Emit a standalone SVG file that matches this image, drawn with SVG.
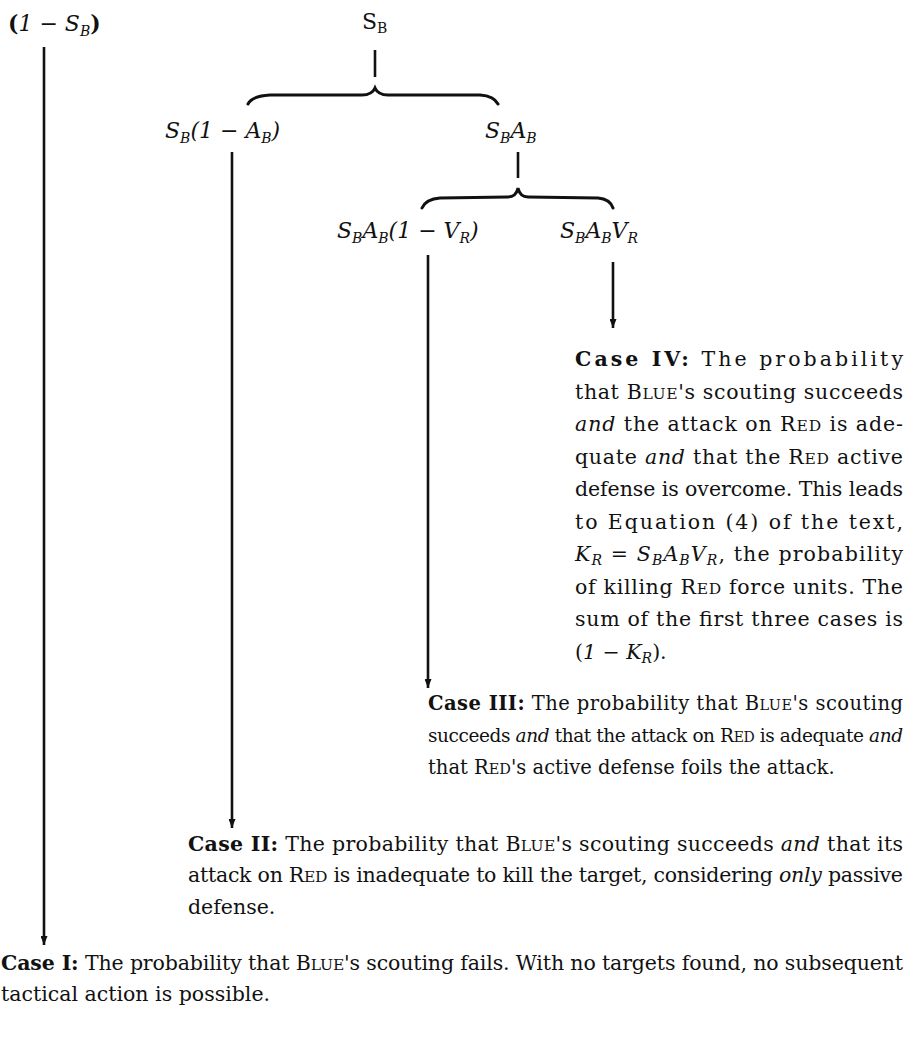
<svg xmlns="http://www.w3.org/2000/svg" width="920" height="1037" viewBox="0 0 920 1037">
<style>
.t{font-family:"DejaVu Serif","Liberation Serif",serif;font-size:20.5px;fill:#111}
.t3{font-size:19.5px}
.t3n{font-size:18.5px}
.b{font-weight:bold}
.i{font-style:italic}
.sc{font-size:15.5px}
.t3 .sc{font-size:14.5px}
.t3n .sc{font-size:14px}
.m{font-family:"DejaVu Serif","Liberation Serif",serif;font-size:22px;fill:#111}
.mi{font-style:italic}
.sub{font-size:14px;font-style:italic}
.ln{stroke:#111;stroke-width:2.6;fill:none}
.br{stroke:#111;stroke-width:3;fill:none;stroke-linecap:round}
</style>
<defs>
<marker id="ah" markerUnits="userSpaceOnUse" markerWidth="9" markerHeight="7" viewBox="0 0 9 7" refX="9" refY="3.5" orient="auto">
<path d="M0,0 L9,3.5 L0,7 z" fill="#111"/>
</marker>
</defs>
<rect width="920" height="1037" fill="#fff"/>

<g id="connectors">
<line class="ln" x1="44" y1="47" x2="44" y2="945" marker-end="url(#ah)"/>
<line class="ln" x1="375" y1="50" x2="375" y2="77"/>
<path class="br" d="M248,104 Q252,96 270,95 L362,95 Q372,95 375,88 Q378,95 388,95 L480,95 Q494,96 498,104"/>
<line class="ln" x1="232" y1="152" x2="232" y2="828" marker-end="url(#ah)"/>
<line class="ln" x1="518" y1="152" x2="518" y2="178"/>
<path class="br" d="M422,208 Q426,199 440,198 L508,197 Q516,197 518,188 Q520,197 528,197 L598,198 Q610,199 613,208"/>
<line class="ln" x1="428" y1="255" x2="428" y2="688" marker-end="url(#ah)"/>
<line class="ln" x1="613" y1="262" x2="613" y2="328" marker-end="url(#ah)"/>
</g>

<g id="n-not-scouted">
<text class="m" x="8" y="31"><tspan class="b">(</tspan><tspan class="mi">1 − S</tspan><tspan class="sub" dy="5">B</tspan><tspan class="b" dy="-5">)</tspan></text>
</g>
<g id="n-scouted">
<text class="m" x="362" y="29">S<tspan font-size="14" dy="4">B</tspan></text>
</g>
<g id="n-inadequate">
<text class="m mi" x="165" y="138">S<tspan class="sub" dy="5">B</tspan><tspan dy="-5">(1 − A</tspan><tspan class="sub" dy="5">B</tspan><tspan dy="-5">)</tspan></text>
</g>
<g id="n-adequate">
<text class="m mi" x="485" y="138">S<tspan class="sub" dy="5">B</tspan><tspan dy="-5">A</tspan><tspan class="sub" dy="5">B</tspan></text>
</g>
<g id="n-foiled">
<text class="m mi" x="337" y="238">S<tspan class="sub" dy="5">B</tspan><tspan dy="-5">A</tspan><tspan class="sub" dy="5">B</tspan><tspan dy="-5">(1 − V</tspan><tspan class="sub" dy="5">R</tspan><tspan dy="-5">)</tspan></text>
</g>
<g id="n-killed">
<text class="m mi" x="560" y="238">S<tspan class="sub" dy="5">B</tspan><tspan dy="-5">A</tspan><tspan class="sub" dy="5">B</tspan><tspan dy="-5">V</tspan><tspan class="sub" dy="5">R</tspan></text>
</g>

<g id="case-4">
<text class="t" x="575" y="366" textLength="328"><tspan class="b">Case IV:</tspan> The probability</text>
<text class="t" x="575" y="398.5" textLength="328">that B<tspan class="sc">LUE</tspan>'s scouting succeeds</text>
<text class="t" x="575" y="431" textLength="328"><tspan class="i">and</tspan> the attack on R<tspan class="sc">ED</tspan> is ade-</text>
<text class="t" x="575" y="463.5" textLength="328">quate <tspan class="i">and</tspan> that the R<tspan class="sc">ED</tspan> active</text>
<text class="t" x="575" y="496" textLength="328">defense is overcome. This leads</text>
<text class="t" x="575" y="528.5" textLength="328">to Equation (4) of the text,</text>
<text class="t" x="575" y="561" textLength="328"><tspan class="i">K</tspan><tspan class="sub" dy="4">R</tspan><tspan dy="-4"> = </tspan><tspan class="i">S</tspan><tspan class="sub" dy="4">B</tspan><tspan class="i" dy="-4">A</tspan><tspan class="sub" dy="4">B</tspan><tspan class="i" dy="-4">V</tspan><tspan class="sub" dy="4">R</tspan><tspan dy="-4">, the probability</tspan></text>
<text class="t" x="575" y="593.5" textLength="328">of killing R<tspan class="sc">ED</tspan> force units. The</text>
<text class="t" x="575" y="626" textLength="328">sum of the first three cases is</text>
<text class="t" x="575" y="658.5">(<tspan class="i">1 − K</tspan><tspan class="sub" dy="4">R</tspan><tspan dy="-4">).</tspan></text>
</g>

<g id="case-3">
<text class="t t3" x="428" y="710" textLength="475"><tspan class="b">Case III:</tspan> The probability that B<tspan class="sc">LUE</tspan>'s scouting</text>
<text class="t t3n" x="428" y="742" textLength="475">succeeds <tspan class="i">and</tspan> that the attack on R<tspan class="sc">ED</tspan> is adequate <tspan class="i">and</tspan></text>
<text class="t t3" x="428" y="774">that R<tspan class="sc">ED</tspan>'s active defense foils the attack.</text>
</g>

<g id="case-2">
<text class="t" x="188" y="851" textLength="715"><tspan class="b">Case II:</tspan> The probability that B<tspan class="sc">LUE</tspan>'s scouting succeeds <tspan class="i">and</tspan> that its</text>
<text class="t" x="188" y="882" textLength="715">attack on R<tspan class="sc">ED</tspan> is inadequate to kill the target, considering <tspan class="i">only</tspan> passive</text>
<text class="t" x="188" y="914">defense.</text>
</g>

<g id="case-1">
<text class="t" x="1" y="970" textLength="902"><tspan class="b">Case I:</tspan> The probability that B<tspan class="sc">LUE</tspan>'s scouting fails. With no targets found, no subsequent</text>
<text class="t" x="1" y="1001">tactical action is possible.</text>
</g>
</svg>
